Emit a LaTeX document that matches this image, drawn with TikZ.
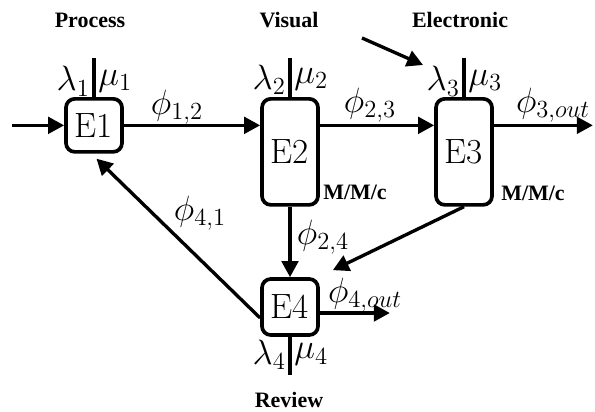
\RequirePackage{fix-cm}
\documentclass[tikz,border=0pt]{standalone}
\usepackage{amsmath}
\usepackage{fontspec}
\newfontfamily\tagfont{Liberation Serif}
\usetikzlibrary{arrows.meta,calc}

\begin{document}
\begin{tikzpicture}[font=\fontsize{20}{23}\selectfont,
    stage/.style={draw, line width=2.1pt, rounded corners=5pt, minimum width=1.12cm, inner sep=0pt},
    flow/.style={line width=1.9pt, -{Triangle[length=3.2mm,width=3.3mm]}},
    stem/.style={line width=1.9pt},
    rate/.style={inner sep=1.5pt},
    tag/.style={font=\tagfont\bfseries\fontsize{12.5}{14}\selectfont}]
  \useasboundingbox (0,0) rectangle (11.9,8.22);
  % stations
  \node[stage, minimum height=1.06cm, anchor=north] (E1) at (1.88,6.28) {E1};
  \node[stage, minimum height=2.12cm, anchor=north] (E2) at (5.8,6.28) {E2};
  \node[stage, minimum height=2.12cm, anchor=north] (E3) at (9.28,6.28) {E3};
  \node[stage, minimum height=1.12cm] (E4) at (5.8,2.08) {E4};
  % titles
  \node[tag] (tProcess) at (1.8,7.82) {Process};
  \node[tag] (tVisual) at (5.78,7.82) {Visual};
  \node[tag] (tElectronic) at (9.2,7.82) {Electronic};
  \node[tag] (tReview) at (5.78,0.22) {Review};
  \node[tag] (q2) at (7.1,4.38) {M/M/c};
  \node[tag] (q3) at (10.66,4.36) {M/M/c};
  % arrival and service rates
  \draw[stem] (E1.north) -- ++(0,0.78)
    node[rate, pos=0.4, left] (l1) {$\lambda_1$} node[rate, pos=0.4, right] (m1) {$\mu_1$};
  \draw[stem] (E2.north) -- ++(0,0.78)
    node[rate, pos=0.45, left] (l2) {$\lambda_2$} node[rate, pos=0.45, right] (m2) {$\mu_2$};
  \draw[stem] (E3.north) -- ++(0,0.78)
    node[rate, pos=0.4, left] (l3) {$\lambda_3$} node[rate, pos=0.4, right] (m3) {$\mu_3$};
  \draw[stem] (E4.south) -- ++(0,-0.76)
    node[rate, pos=0.47, left] (l4) {$\lambda_4$} node[rate, pos=0.47, right] (m4) {$\mu_4$};
  % flows
  \coordinate (in1) at ($(E1.west)+(-1.04,0)$);
  \coordinate (out3) at ($(E1.east -| E3.east)+(1.98,0)$);
  \coordinate (out4) at ($(E4.east)+(1.4,-0.12)$);
  \coordinate (src3) at (7.24,7.46);
  \coordinate (dst3) at (8.46,6.92);
  \draw[flow] (in1) -- (E1.west);
  \draw[flow] (E1.east) -- (E1.east -| E2.west);
  \draw[flow] (E1.east -| E2.east) -- (E1.east -| E3.west);
  \draw[flow] (E1.east -| E3.east) -- (out3);
  \draw[flow] (src3) -- (dst3);
  \draw[flow] (E2.south) -- (E4.north);
  \draw[flow] (E3.south) -- ($(E4.north east)+(0.26,0.14)$);
  \draw[flow] ($(E4.west)+(0,-0.22)$) -- ($(E1.south)+(0.05,-0.1)$);
  \draw[flow] ($(E4.east)+(0,-0.12)$) -- (out4);
  % routing probabilities
  \node (p12) at (3.54,6.08) {$\phi_{1,2}$};
  \node (p23) at (7.4,6.12) {$\phi_{2,3}$};
  \node (p3o) at (11.06,6.12) {$\phi_{3,out}$};
  \node (p24) at (6.46,3.48) {$\phi_{2,4}$};
  \node (p41) at (4.0,3.96) {$\phi_{4,1}$};
  \node (p4o) at (7.3,2.32) {$\phi_{4,out}$};
\end{tikzpicture}
\end{document}
